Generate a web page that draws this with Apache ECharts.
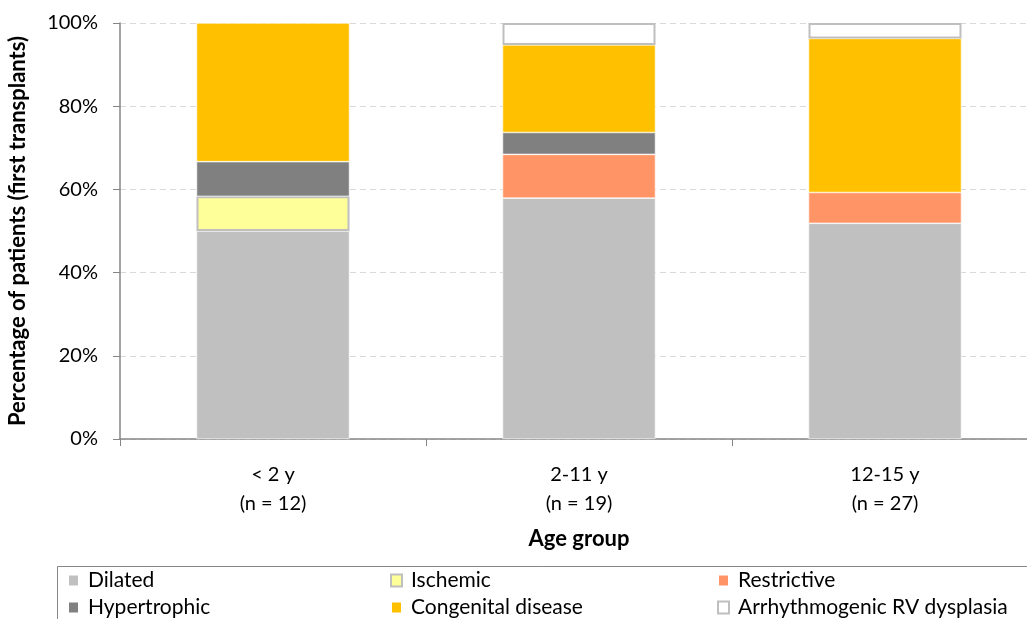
<!DOCTYPE html>
<html>
<head>
<meta charset="utf-8">
<script src="https://cdn.jsdelivr.net/npm/echarts@6/dist/echarts.min.js"></script>
<style>
  html, body { margin: 0; padding: 0; background: #fff; }
  #chart { width: 1027px; height: 619px; }
</style>
</head>
<body>
<div id="chart"></div>
<script>
// Age groups and number of first transplants in each
const ageGroups = ['< 2 y', '2-11 y', '12-15 y'];
const groupSizes = [12, 19, 27];

// Patients per diagnosis in each age group
const dilated      = [6, 11, 14];
const ischemic     = [1, 0, 0];
const restrictive  = [0, 2, 2];
const hypertrophic = [1, 1, 0];
const congenital   = [4, 4, 10];
const arvd         = [0, 1, 1];

const yTicks = [0, 20, 40, 60, 80, 100];

const FONT = 'Lato, "Open Sans", sans-serif';

function pct(counts) {
  return counts.map((c, i) => c === 0 ? null : c / groupSizes[i] * 100);
}

const seriesDefs = [
  { name: 'Dilated',                     data: dilated,      color: '#c0c0c0', border: null },
  { name: 'Ischemic',                    data: ischemic,     color: '#ffff99', border: '#bfbfbf' },
  { name: 'Restrictive',                 data: restrictive,  color: '#ff9566', border: null },
  { name: 'Hypertrophic',                data: hypertrophic, color: '#808080', border: null },
  { name: 'Congenital disease',          data: congenital,   color: '#ffc000', border: null },
  { name: 'Arrhythmogenic RV dysplasia', data: arvd,         color: '#ffffff', border: '#bfbfbf' }
];

const series = seriesDefs.map(d => ({
  name: d.name,
  type: 'bar',
  stack: 'total',
  barWidth: '50%',
  data: pct(d.data),
  itemStyle: {
    color: d.color,
    borderColor: d.border || '#ffffff',
    borderWidth: d.border ? 2 : 0.6
  },
  emphasis: { disabled: true }
}));

// One legend entry per block so the entries sit in a fixed 3-column, 2-row grid
const legendSlots = [
  ['Dilated', 67, 570], ['Hypertrophic', 67, 597],
  ['Ischemic', 390, 570], ['Congenital disease', 390, 597],
  ['Restrictive', 717, 570], ['Arrhythmogenic RV dysplasia', 717, 597]
];
const legends = legendSlots.map(([name, left, top]) => ({
  left: left,
  top: top,
  padding: 0,
  itemWidth: 11,
  itemHeight: 12,
  data: [name],
  icon: 'rect',
  selectedMode: false,
  textStyle: { fontFamily: FONT, fontSize: 21, color: '#000', padding: [0, 0, 0, 4] }
}));

const chart = echarts.init(document.getElementById('chart'), null, { renderer: 'canvas' });
chart.setOption({
  animation: false,
  backgroundColor: '#fff',
  grid: { left: 120, right: -11, top: 23, bottom: 180, containLabel: false, outerBoundsMode: 'none' },
  legend: legends,
  graphic: [{
    type: 'rect',
    shape: { x: 57.5, y: 566.5, width: 1000, height: 60 },
    style: { fill: 'none', stroke: '#868686', lineWidth: 1 },
    silent: true
  }],
  xAxis: {
    type: 'category',
    data: ageGroups,
    axisLine: { lineStyle: { color: '#868686', width: 1.5 } },
    axisTick: { show: true, length: 7, lineStyle: { color: '#868686' } },
    axisLabel: {
      margin: 21,
      lineHeight: 29,
      fontFamily: FONT,
      fontSize: 20,
      color: '#000',
      formatter: (v, i) => v + '\n(n = ' + groupSizes[i] + ')'
    },
    name: 'Age group',
    nameLocation: 'middle',
    nameGap: 89,
    nameTextStyle: { fontFamily: FONT, fontSize: 22, fontWeight: 'bold', color: '#000' }
  },
  yAxis: {
    type: 'value',
    min: 0,
    max: 100,
    interval: yTicks[1] - yTicks[0],
    axisLine: { show: true, lineStyle: { color: '#868686', width: 1.5 } },
    axisTick: { show: true, length: 7, lineStyle: { color: '#868686' } },
    axisLabel: {
      margin: 22,
      fontFamily: FONT,
      fontSize: 20,
      color: '#000',
      formatter: v => yTicks.includes(v) ? v + '%' : ''
    },
    splitLine: { lineStyle: { color: '#d9d9d9', type: [6, 4], width: 1.2 } },
    name: 'Percentage of patients (first transplants)',
    nameLocation: 'middle',
    nameGap: 91,
    nameTextStyle: { fontFamily: FONT, fontSize: 22, fontWeight: 'bold', color: '#000' }
  },
  series: series
});
</script>
</body>
</html>
